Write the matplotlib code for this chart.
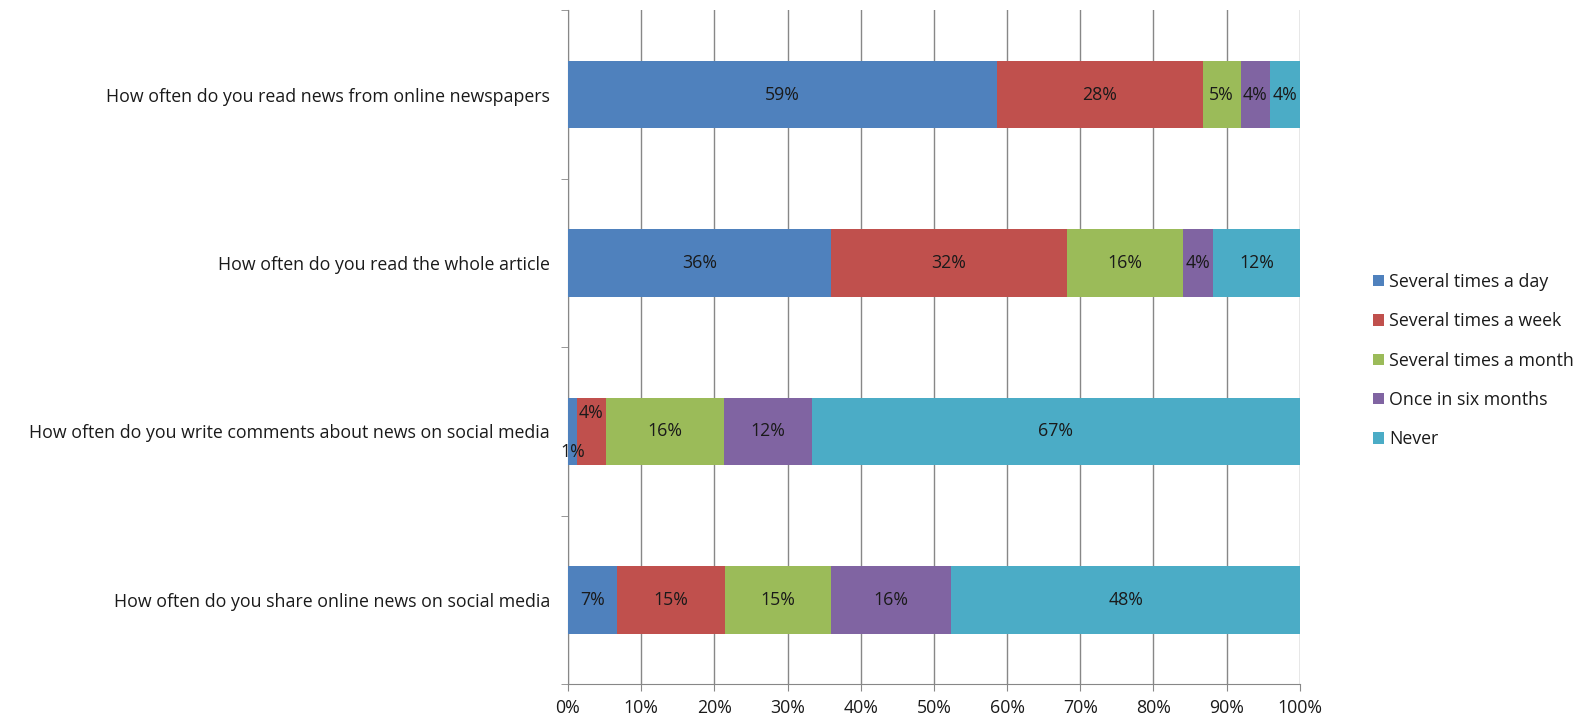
import numpy as np
import matplotlib.pyplot as plt
from matplotlib.ticker import MultipleLocator, FixedLocator

# Data (percent of respondents)
questions = [
    "How often do you read news from online newspapers",
    "How often do you read the whole article",
    "How often do you write comments about news on social media",
    "How often do you share online news on social media",
]
answers = ["Several times a day", "Several times a week", "Several times a month",
           "Once in six months", "Never"]
several_day = [58.6, 35.9, 1.2, 6.7]
several_week = [28.1, 32.3, 4.0, 14.7]
several_month = [5.2, 15.8, 16.1, 14.6]
six_months = [4.0, 4.1, 12.0, 16.3]
never = [4.1, 11.9, 66.7, 47.8]

colors = ["#4F81BD", "#C0504D", "#9BBB59", "#8064A2", "#4BACC6"]
series = [several_day, several_week, several_month, six_months, never]

plt.rcParams['font.family'] = ['Open Sans', 'DejaVu Sans']
text_color = "#1a1a1a"
fsize = 12.8

fig = plt.figure(figsize=(15.91, 7.22), dpi=100)
ax = fig.add_axes([0.357, 0.0526, 0.46, 0.933])

y = np.arange(len(questions))
left = np.zeros(len(questions))
for name, vals, col in zip(answers, series, colors):
    vals = np.array(vals)
    ax.barh(y, vals, left=left, height=0.4, color=col, label=name, zorder=3)
    for i, v in enumerate(vals):
        dy = 0
        # small segments in the comments bar are nudged apart, like the original
        if i == 2 and name == answers[0]:
            dy = 0.12
        elif i == 2 and name == answers[1]:
            dy = -0.11
        ax.text(left[i] + v / 2, y[i] + dy, f"{round(v)}%", ha="center", va="center",
                fontsize=fsize, color=text_color, zorder=4)
    left += vals

ax.set_xlim(0, 100)
ax.set_ylim(len(questions) - 0.5, -0.5)
ax.xaxis.set_major_locator(MultipleLocator(10))
ax.xaxis.set_major_formatter(lambda v, p: f"{int(v)}%")
ax.set_yticks(y)
ax.set_yticklabels(questions)
ax.yaxis.set_minor_locator(FixedLocator(np.arange(-0.5, len(questions), 1.0)))
ax.tick_params(axis="y", which="major", length=0, pad=13, labelsize=fsize, labelcolor=text_color)
ax.tick_params(axis="y", which="minor", length=5, color="#878787")
ax.tick_params(axis="x", length=5, color="#878787", labelsize=fsize, labelcolor=text_color, pad=6)

ax.grid(axis="x", color="#878787", linewidth=1, zorder=0)
for s in ["top", "right"]:
    ax.spines[s].set_visible(False)
for s in ["left", "bottom"]:
    ax.spines[s].set_color("#878787")

ax.legend(loc="center left", bbox_to_anchor=(1.1, 0.48), frameon=False, fontsize=fsize,
          borderaxespad=0, borderpad=0,
          handlelength=0.6, handleheight=0.6, labelspacing=1.2, handletextpad=0.3,
          labelcolor=text_color)

fig.savefig("out.png", dpi=100)
